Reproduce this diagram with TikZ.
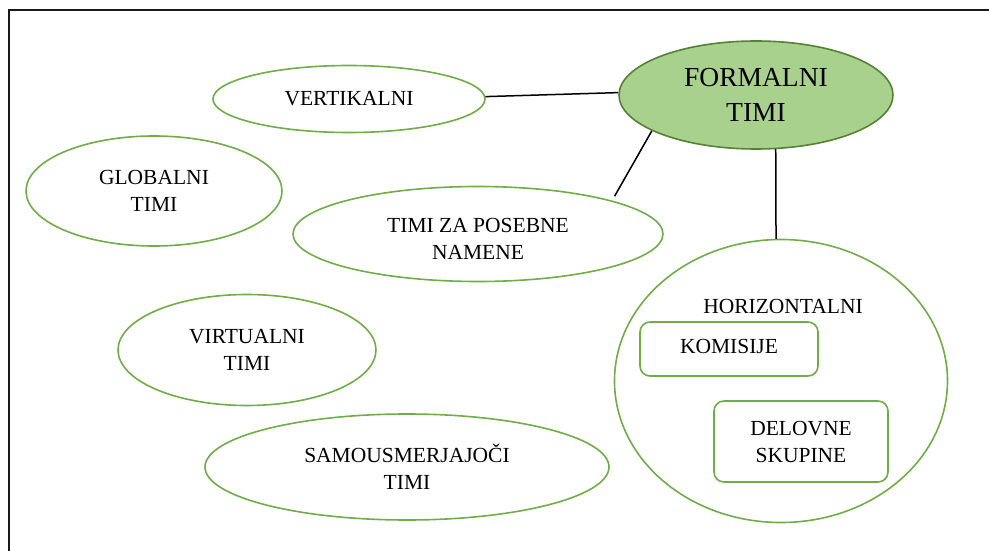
\documentclass[tikz,border=0pt]{standalone}
\usepackage{fontspec}
\setmainfont{Liberation Serif}
\usetikzlibrary{shapes.geometric}
\definecolor{leafgreen}{HTML}{70AD47}
\definecolor{leaffill}{HTML}{A9D18E}
\definecolor{darkleaf}{HTML}{548235}

\begin{document}
\begin{tikzpicture}[x=1pt,y=-1pt,
  team/.style={ellipse, draw=leafgreen, line width=1.6pt, inner sep=0pt,
    align=center, font=\fontsize{21.5}{27}\selectfont},
  core/.style={team, fill=leaffill, draw=darkleaf, font=\fontsize{27.5}{35}\selectfont},
  unit/.style={rectangle, rounded corners=10pt, draw=leafgreen, line width=1.6pt,
    inner sep=0pt, align=center, font=\fontsize{21.5}{27}\selectfont},
  caption/.style={inner sep=0pt, align=center, font=\fontsize{21.5}{27}\selectfont},
  link/.style={line width=1.5pt, black}]
\useasboundingbox (0,0) rectangle (989,551);
% page frame
\draw[line width=2pt, black!90] (989,10) -- (9,10) -- (9,551);

% team types
\node[core, minimum width=274pt, minimum height=108pt] (formal) at (756,95) {FORMALNI\\TIMI};
\node[team, minimum width=272pt, minimum height=67pt] (vert) at (349,99) {VERTIKALNI};
\node[team, minimum width=256pt, minimum height=110pt] (glob) at (154,191) {GLOBALNI\\TIMI};
\node[team, minimum width=370pt, minimum height=95pt] (poseb) at (478,234) {};
\node[caption] (posebtext) at ([yshift=-5pt]poseb.center) {TIMI ZA POSEBNE\\NAMENE};
\node[team, minimum width=258pt, minimum height=111pt] (virt) at (247,350) {VIRTUALNI\\TIMI};
\node[team, minimum width=404pt, minimum height=106pt] (samo) at (407,467) {SAMOUSMERJAJOČI\\TIMI};

% horizontal teams and their subgroups
\node[team, minimum width=333pt, minimum height=283pt] (horiz) at (781,381) {};
\node[caption] (horizlabel) at (783,306) {HORIZONTALNI};
\node[unit, minimum width=178pt, minimum height=54pt] (komis) at (729,349) {};
\node[caption] (komistext) at ([yshift=3pt]komis.center) {KOMISIJE};
\node[unit, minimum width=174pt, minimum height=81pt] (delov) at (801,441.5) {DELOVNE\\SKUPINE};

% connections to formal teams
\draw[link] (vert.1) -- (formal.179);
\draw[link, shorten >=5pt] (formal.199) -- (poseb.14);
\draw[link] (formal.290) -- (horiz.92);
\end{tikzpicture}
\end{document}
